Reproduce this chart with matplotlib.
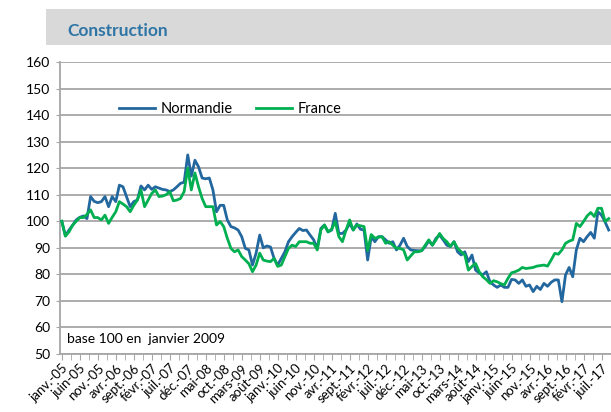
import matplotlib
matplotlib.use('Agg')
import matplotlib.pyplot as plt
from matplotlib.patches import Rectangle

plt.rcParams['font.family'] = ['Lato', 'DejaVu Sans']

# indices mensuels, base 100 en janvier 2009 (janv. 2005 -> sept. 2017)
normandie = [
    100, 94.5, 96.7, 98.5, 100.5, 101.5, 102, 101, 109.3, 107.5, 107, 107.4,       # 2005
    109.3, 105.5, 109.3, 107.4, 113.6, 113, 109.3, 105.5, 107.4, 108, 113.3, 111.8,  # 2006
    113.6, 112, 113, 112.5, 112, 111.8, 111.2, 111.8, 113, 114.3, 114.7, 125,       # 2007
    117, 123, 120.5, 116.3, 116, 116.3, 111.8, 103.6, 106, 106, 100.5, 98,          # 2008
    97.5, 96.7, 94.2, 89.8, 89.2, 83.5, 88, 94.8, 90, 90.7, 90.3, 86,              # 2009
    83.5, 86, 88.5, 92.3, 94.2, 95.8, 97.3, 96.5, 96.7, 94.8, 93, 89.8,            # 2010
    97.3, 98.6, 96, 96.7, 103, 95.4, 95.4, 96.7, 99.2, 96.7, 99, 97,               # 2011
    96.7, 85.4, 94.2, 92.3, 94.2, 94.2, 93, 91.7, 92.3, 89.2, 91, 93.6,            # 2012
    90.5, 89.2, 89, 88.9, 88.9, 90.5, 92.6, 91, 93.6, 94.8, 93, 91,                # 2013
    90.5, 92.3, 88.5, 87.3, 88.5, 84.8, 87.3, 81.6, 80.5, 79.8, 81, 77.2,          # 2014
    76, 75.1, 76, 75.1, 75.1, 78.1, 77.9, 76.6, 77.9, 75.5, 76, 73.5,              # 2015
    75.5, 74.3, 76.6, 75.5, 77, 77.9, 77.9, 69.7, 79.8, 82.6, 79.1, 89.2,          # 2016
    93.6, 92.3, 94.2, 95.8, 93.6, 103.6, 102.3, 99.7, 96.7,                        # 2017
]
france = [
    100, 94.4, 96, 98.5, 100, 101.4, 101.4, 102.6, 104.3, 101.4, 101.4, 100.5,
    102.3, 99.2, 101.5, 103.6, 107.4, 106.5, 105.5, 103.6, 106, 108, 111.8, 105.5,
    108, 110.5, 111.8, 109.3, 109.5, 110, 111.2, 107.7, 108, 108.6, 111.2, 120,
    111.8, 118.2, 113, 108.6, 105.5, 105.5, 105.5, 98.6, 99.9, 98, 93.6, 89.8,
    88.5, 89.2, 86.7, 85.4, 84, 81, 83.5, 88, 85.4, 85, 84.8, 86,
    83, 83.5, 86.7, 89.8, 91, 90.5, 92.3, 92.3, 92.3, 91.7, 91.7, 89.2,
    96.7, 98.6, 96, 97, 99.9, 94.2, 92.3, 96.7, 100.5, 96.7, 98.6, 98.3,
    98, 89, 95, 93.6, 94, 94.2, 91.7, 92.3, 91, 89.8, 89.8, 89.2,
    85.4, 87, 88.5, 88.5, 88.9, 91, 93, 91, 93, 95.4, 93.5, 92.3,
    90.5, 92.3, 89.8, 88.5, 87.3, 81.6, 83, 84.1, 81, 79.1, 78, 76.6,
    77.6, 77.2, 76.5, 76, 78.5, 80.6, 81, 81.6, 82.6, 82.2, 82.4, 82.6,
    83.1, 83.3, 83.5, 83.1, 85.4, 87.9, 87.6, 89.2, 91.7, 92.5, 93, 99.2,
    98, 99.9, 102, 103.3, 101.8, 104.9, 104.9, 99.9, 101,
]

tick_labels = ['janv.-05', 'juin-05', 'nov.-05', 'avr.-06', 'sept.-06', 'févr.-07',
               'juil.-07', 'déc.-07', 'mai-08', 'oct.-08', 'mars-09', 'août-09',
               'janv.-10', 'juin-10', 'nov.-10', 'avr.-11', 'sept.-11', 'févr.-12',
               'juil.-12', 'déc.-12', 'mai-13', 'oct.-13', 'mars-14', 'août-14',
               'janv.-15', 'juin-15', 'nov.-15', 'avr.-16', 'sept.-16', 'févr.-17',
               'juil.-17']

months = list(range(len(normandie)))
tick_pos = [5 * i for i in range(len(tick_labels))]

fig = plt.figure(figsize=(6.11, 4.12), dpi=100)
ax = fig.add_axes([0.0982, 0.1408, 0.9010, 0.7087])

# bandeau titre
fig.patches.append(Rectangle((0.075, 0.89), 0.925, 0.088, transform=fig.transFigure,
                             facecolor='#d9d9d9', edgecolor='none', zorder=0))
fig.text(0.111, 0.925, 'Construction', fontsize=12.5, fontweight='bold',
         color='#2e75a6', va='center', ha='left')

ax.plot(months, normandie, color='#23679f', lw=2, label='Normandie', zorder=3)
ax.plot(months, france, color='#00b050', lw=2, label='France', zorder=3)

ax.set_ylim(50, 160)
ax.set_yticks(range(50, 161, 10))
ax.set_xlim(-0.5, 152.5)
ax.set_xticks(tick_pos)
ax.set_xticklabels(tick_labels, rotation=45, ha='right', rotation_mode='anchor', fontsize=9.5)
ax.set_xticks([p + 2.5 for p in tick_pos[:-1]], minor=True)
ax.tick_params(axis='x', which='both', length=4, color='#a6a6a6', pad=2)
ax.tick_params(axis='y', length=3, color='#a6a6a6', labelsize=10, pad=4)

ax.grid(axis='y', color='#a6a6a6', lw=1.3)
ax.set_axisbelow(True)
for s in ['top', 'right']:
    ax.spines[s].set_visible(False)
for s in ['left', 'bottom']:
    ax.spines[s].set_color('#a6a6a6')
    ax.spines[s].set_linewidth(1.3)

ax.legend(loc='center left', bbox_to_anchor=(0.083, 0.84), ncol=2, frameon=False,
          handlelength=2.5, handletextpad=0.35, columnspacing=1.6, fontsize=10.5)
ax.text(0.012, 0.03, 'base 100 en  janvier 2009', transform=ax.transAxes,
        fontsize=10, ha='left', va='bottom')

fig.savefig('out.png', dpi=100)
